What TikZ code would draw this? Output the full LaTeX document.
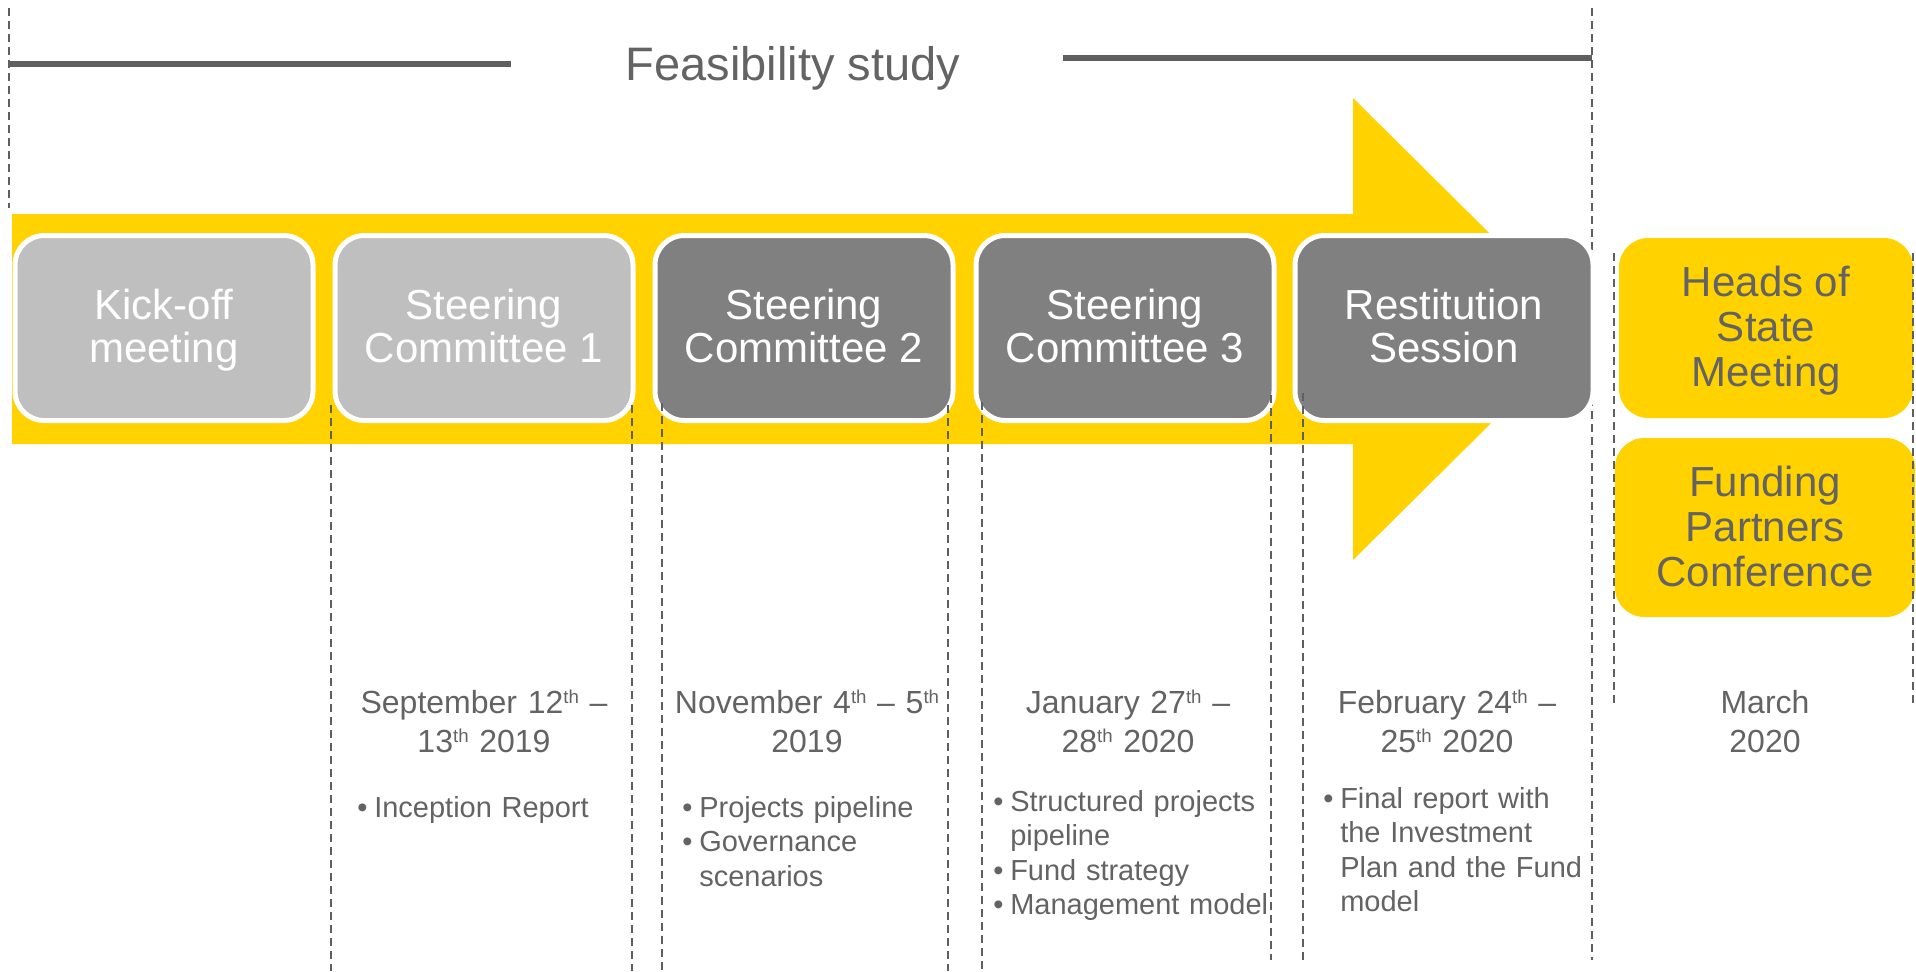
\documentclass[tikz,border=0pt]{standalone}
\usepackage{fontspec}
\setmainfont{Liberation Sans}
\definecolor{eyyellow}{HTML}{FFD200}
\definecolor{lightbox}{HTML}{BFBFBF}
\definecolor{darkbox}{HTML}{808080}
\definecolor{textgray}{HTML}{636363}
\definecolor{linegray}{HTML}{5F5F5F}
\newcommand{\itm}{\makebox[12.75pt][l]{\textbullet}}
\newcommand{\ind}{\hspace*{12.75pt}}
\newcommand{\thsup}{\raisebox{7.5pt}{\fontsize{14}{14}\selectfont th}}
\begin{document}
\begin{tikzpicture}[x=0.75pt,y=-0.75pt,
    phase/.style={draw=white,line width=3.75pt,rounded corners=22pt,
        minimum width=223.5pt,minimum height=138.75pt,inner sep=0pt},
    phasetxt/.style={align=center,inner sep=0pt,text=white,
        font=\fontsize{31.5}{32.25}\selectfont},
    event/.style={fill=eyyellow,rounded corners=22pt,inner sep=0pt},
    eventtxt/.style={align=center,inner sep=0pt,text=textgray,
        font=\fontsize{31.5}{33.75}\selectfont},
    datetxt/.style={anchor=base,text width=225pt,align=center,inner sep=0pt,
        text=textgray,font=\fontsize{24}{29.25}\selectfont},
    listtxt/.style={anchor=base west,text width=225pt,align=left,inner sep=0pt,
        text=textgray,font=\fontsize{21.75}{25.9}\selectfont},
    guide/.style={linegray,line width=1.4pt,dash pattern=on 6pt off 3.75pt},
    bar/.style={linegray,line width=4.5pt}]
    \useasboundingbox (0,0) rectangle (1916,971);
    %% feasibility study
    \node[anchor=base,text=textgray,font=\fontsize{35.25}{40}\selectfont] (feas) at (793,80) {Feasibility study};
    \draw[bar] (9,64) -- (511,64);
    \draw[bar] (1063,58) -- (1592,58);
    \draw[guide] (9,8) -- (9,208);
    \draw[guide] (1592,8) -- (1592,960);
    %% arrow
    \fill[eyyellow] (12,214) -- (1353,214) -- (1353,98) -- (1586,329)
        -- (1353,560) -- (1353,444) -- (12,444) -- cycle;
    %% phases
    \node[phase,fill=lightbox] (kickoff) at (164,328) {};
    \node[phase,fill=lightbox] (steer1) at (484,328) {};
    \node[phase,fill=darkbox] (steer2) at (804,328) {};
    \node[phase,fill=darkbox] (steer3) at (1125,328) {};
    \node[phase,fill=darkbox] (restit) at (1444,328) {};
    \node[phasetxt] (kickoffT) at (164,330.5) {Kick-off\\meeting};
    \node[phasetxt] (steer1T) at (484,326) {Steering\\Committee 1};
    \node[phasetxt] (steer2T) at (804,326) {Steering\\Committee 2};
    \node[phasetxt] (steer3T) at (1125,326) {Steering\\Committee 3};
    \node[phasetxt] (restitT) at (1444,326) {Restitution\\Session};
    %% march events
    \node[event,minimum width=220.5pt,minimum height=135pt] (heads) at (1766,328) {};
    \node[event,minimum width=225pt,minimum height=134.25pt] (funding) at (1765,527.5) {};
    \node[eventtxt] (headsT) at (1766,331) {Heads of\\State\\Meeting};
    \node[eventtxt] (fundingT) at (1765,526) {Funding\\Partners\\Conference};
    %% column guides
    \foreach \gx/\gt/\gb in {331/405/971,632/405/971,662/403/971,948/405/971,
        982/402/971,1271/395/960,1303/393/960,1614/253/708,1913/253/705}
        \draw[guide] (\gx,\gt) -- (\gx,\gb);
    %% dates
    \node[datetxt] (date1) at (484,713) {September 12\thsup{} –\\13\thsup{} 2019};
    \node[datetxt] (date2) at (807,713) {November 4\thsup{} – 5\thsup\\2019};
    \node[datetxt] (date3) at (1128,713) {January 27\thsup{} –\\28\thsup{} 2020};
    \node[datetxt] (date4) at (1447,713) {February 24\thsup{} –\\25\thsup{} 2020};
    \node[datetxt] (date5) at (1765,713) {March\\2020};
    %% deliverables
    \node[listtxt] (out1) at (357,817) {\itm Inception Report};
    \node[listtxt] (out2) at (682,817) {\itm Projects pipeline\\\itm Governance\\\ind scenarios};
    \node[listtxt] (out3) at (993,811) {\itm Structured projects\\\ind pipeline\\\itm Fund strategy\\\itm Management model};
    \node[listtxt] (out4) at (1323,808) {\itm Final report with\\\ind the Investment\\\ind Plan and the Fund\\\ind model};
\end{tikzpicture}
\end{document}
